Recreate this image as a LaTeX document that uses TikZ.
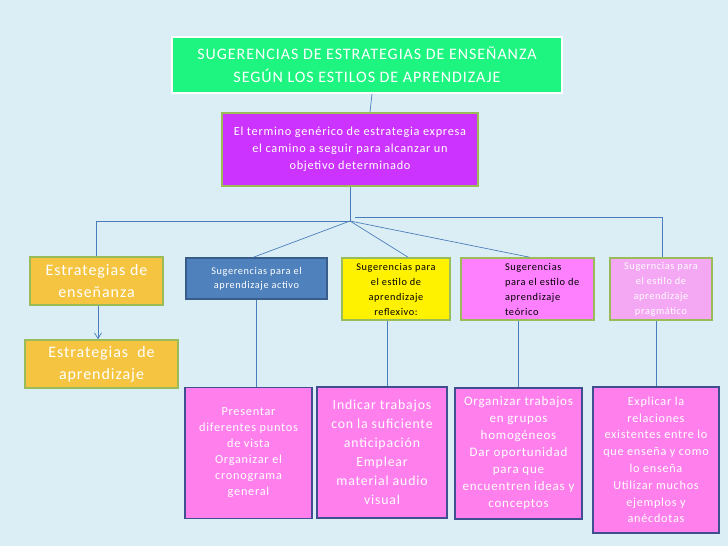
\documentclass[tikz,border=0pt]{standalone}
\usepackage{fontspec}
\setmainfont[LetterSpace=6]{Carlito}
\usetikzlibrary{arrows.meta}
\usetikzlibrary{calc}

\definecolor{bgblue}{HTML}{DCEEF5}
\definecolor{titlegreen}{HTML}{1EF581}
\definecolor{violet}{HTML}{CC33FF}
\definecolor{olivegreen}{HTML}{9BBB59}
\definecolor{gold}{HTML}{F5C542}
\definecolor{steelblue}{HTML}{4F81BD}
\definecolor{darksteel}{HTML}{385D8A}
\definecolor{rosa}{HTML}{FF80FF}
\definecolor{paleros}{HTML}{F4A8F4}
\definecolor{boxpink}{HTML}{FF80EC}
\definecolor{navy}{HTML}{3F4F8F}
\definecolor{wire}{HTML}{4A7EBB}

\tikzset{
    card/.style={draw=olivegreen, line width=1.6pt, inner sep=2pt, align=center},
    leaf/.style={draw=navy, fill=boxpink, line width=1.6pt, inner sep=2pt,
        align=center, text=white, minimum width=127pt, minimum height=131pt},
    wire/.style={draw=wire, line width=0.7pt}
}
\newcommand{\fs}[2]{\fontsize{#1}{#2}\selectfont}

\begin{document}
\begin{tikzpicture}[x=1pt, y=-1pt]
    % Background
    \fill[bgblue] (0,0) rectangle (728,546);
    \useasboundingbox (0,0) rectangle (728,546);

    % Top boxes
    \node[draw=white, fill=titlegreen, line width=1.6pt, align=center, text=white,
        minimum width=390pt, minimum height=56pt, font=\fs{16}{23}] (title) at (367,65)
        {SUGERENCIAS DE ESTRATEGIAS DE ENSEÑANZA\\SEGÚN LOS ESTILOS DE APRENDIZAJE};
    \node[card, fill=violet, text=white, minimum width=256pt, minimum height=73pt,
        font=\fs{12.3}{17}] (generic) at (350,149.5)
        {El termino genérico de estrategia expresa\\el camino a seguir para alcanzar un\\objetivo determinado};

    % Left column
    \node[card, fill=gold, text=white, minimum width=133pt, minimum height=48pt,
        font=\fs{16}{22}] (ens) at (96.5,281) {Estrategias de\\enseñanza};
    \node[card, fill=gold, text=white, minimum width=153pt, minimum height=48pt,
        font=\fs{16}{22}] (apr) at (101.5,364) {Estrategias~ de\\aprendizaje};

    % Styles row
    \node[card, draw=darksteel, fill=steelblue, text=white, minimum width=141pt,
        minimum height=41pt, font=\fs{10.3}{14}] (activo) at (256.5,278.5)
        {Sugerencias para el\\aprendizaje activo};
    \node[card, fill=yellow, text=black, minimum width=108pt, minimum height=62pt,
        font=\fs{10.3}{15}] (reflex) at (396,289)
        {Sugerencias para\\el estilo de\\aprendizaje\\reflexivo:};
    \node[card, fill=rosa, text=black, minimum width=133pt, minimum height=62pt,
        font=\fs{10.4}{15}] (teorico) at (527.5,289)
        {\hspace*{35pt}\parbox{80pt}{\raggedright Sugerencias\\para el estilo de\\aprendizaje\\teórico}};
    \node[card, fill=paleros, text=white, minimum width=102pt, minimum height=62pt,
        font=\fs{10.3}{15}] (prag) at (661,289)
        {Sugerncias para\\el estilo de\\aprendizaje\\pragmático};

    % Bottom boxes
    \node[leaf, font=\fs{12.3}{16}] (presentar) at (248.5,453)
        {Presentar\\diferentes puntos\\de vista\\Organizar el\\cronograma\\general};
    \node[leaf, minimum width=130pt, font=\fs{13.8}{19}] (indicar) at (382,452.5)
        {Indicar trabajos\\con la suficiente\\anticipación\\Emplear\\material audio\\visual};
    \node[leaf, font=\fs{13}{17}] (organizar) at (518.5,453.5)
        {Organizar trabajos\\en grupos\\homogéneos\\Dar oportunidad\\para que\\encuentren ideas y\\conceptos};
    \node[leaf, minimum width=126pt, minimum height=146pt, font=\fs{12.2}{16.8}] (explicar) at (656,460)
        {Explicar la\\relaciones\\existentes entre lo\\que enseña y como\\lo enseña\\Utilizar muchos\\ejemplos y\\anécdotas};

    % Draw connectors
    \coordinate (j) at (350,221);
    \coordinate (j2) at (355,217);
    \draw[wire] ([xshift=5pt]title.south) -- ([xshift=20pt]generic.north);
    \draw[wire] (generic.south) -- (j);
    \draw[wire] (j) -| (ens.north);
    \draw[wire] (j) -- ([xshift=-3pt]activo.north);
    \draw[wire] (j) -- ([xshift=12pt]reflex.north);
    \draw[wire] (j) -- ([xshift=2pt]teorico.north);
    \draw[wire] (j2) -| ([xshift=1pt]prag.north);
    \draw[wire, -{Straight Barb[length=2mm, width=2.5mm]}] ([xshift=1.5pt]ens.south) -- ([xshift=1.5pt]ens.south |- apr.north);

    \draw[wire] (activo.south) -- (activo.south |- presentar.north);
    \draw[wire] ([xshift=-9pt]reflex.south) -- ([xshift=-9pt]reflex.south |- indicar.north);
    \draw[wire] (teorico.south -| organizar.north) -- (organizar.north);
    \draw[wire] (prag.south -| explicar.north) -- (explicar.north);
\end{tikzpicture}
\end{document}
